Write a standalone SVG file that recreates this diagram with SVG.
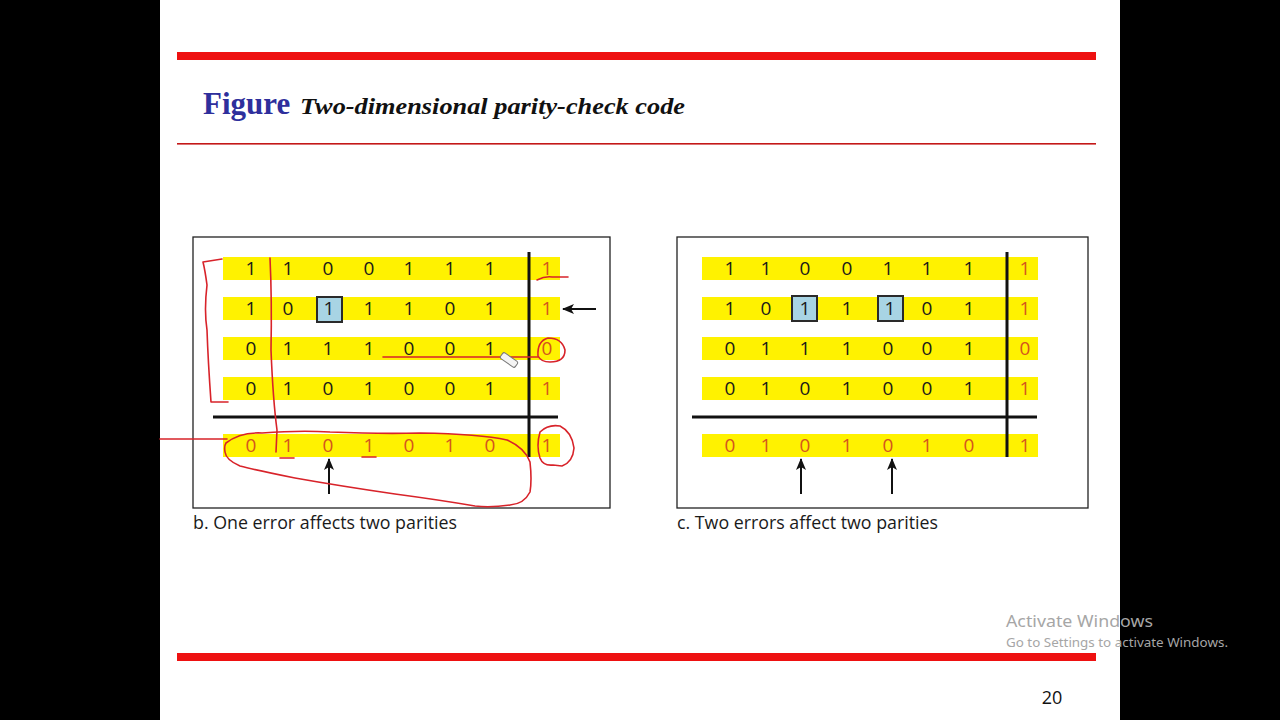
<svg xmlns="http://www.w3.org/2000/svg" width="1280" height="720" viewBox="0 0 1280 720">
<style>
.band{fill:#fff200}
.d{font-family:"Open Sans","Liberation Sans",sans-serif;font-size:19px;fill:#1a1a1a;text-anchor:middle}
.p{fill:#d4561e}
.err{fill:#a8d4e4;stroke:#2a2a2a;stroke-width:2}
.rule{stroke:#111;stroke-width:3}
.frame{fill:none;stroke:#222;stroke-width:1.3}
.cap{font-family:"Open Sans","Liberation Sans",sans-serif;font-size:17.5px;fill:#1a1a1a}
.ink{fill:none;stroke:#d8232a;stroke-width:1.6;stroke-linecap:round;stroke-linejoin:round}
.arr{stroke:#111;stroke-width:2;marker-end:url(#ah)}
</style>
<defs>
<marker id="ah" viewBox="0 0 12 10" refX="11" refY="5" markerWidth="12" markerHeight="10" markerUnits="userSpaceOnUse" orient="auto">
<path d="M0,0 L12,5 L0,10 L3,5 Z" fill="#111"/>
</marker>
</defs>
<rect x="0" y="0" width="1280" height="720" fill="#000"/>
<rect x="160" y="0" width="960" height="720" fill="#fff"/>
<rect x="177" y="52" width="919" height="8" fill="#ee1111"/>
<rect x="177" y="143" width="919" height="1.6" fill="#c41818"/>
<rect x="177" y="653" width="919" height="8" fill="#ee1111"/>
<g id="title">
<text x="203" y="114" font-family="Liberation Serif,serif" font-weight="bold" font-size="31" fill="#2e2f9c">Figure</text>
<text x="300" y="114" font-family="Liberation Serif,serif" font-weight="bold" font-style="italic" font-size="24" fill="#111" textLength="385" lengthAdjust="spacingAndGlyphs">Two-dimensional parity-check code</text>
</g>

<g id="panel-b">
<rect class="frame" x="193" y="237" width="417" height="271"/>
<rect class="band" x="223" y="257" width="337" height="23"/>
<rect class="band" x="223" y="297" width="337" height="23"/>
<rect class="band" x="223" y="337" width="337" height="23"/>
<rect class="band" x="223" y="377" width="337" height="23"/>
<rect class="band" x="223" y="434" width="337" height="23"/>
<rect class="err" x="317" y="297" width="25" height="25"/>
<line class="rule" x1="529" y1="252" x2="529" y2="457"/>
<line class="rule" x1="213" y1="417" x2="558" y2="417"/>
<g class="d">
<text x="251" y="275">1</text><text x="288" y="275">1</text><text x="328" y="275">0</text><text x="369" y="275">0</text><text x="409" y="275">1</text><text x="450" y="275">1</text><text x="490" y="275">1</text><text class="p" x="547" y="275">1</text>
<text x="251" y="315">1</text><text x="288" y="315">0</text><text x="329" y="315">1</text><text x="369" y="315">1</text><text x="409" y="315">1</text><text x="450" y="315">0</text><text x="490" y="315">1</text><text class="p" x="547" y="315">1</text>
<text x="251" y="355">0</text><text x="288" y="355">1</text><text x="328" y="355">1</text><text x="369" y="355">1</text><text x="409" y="355">0</text><text x="450" y="355">0</text><text x="490" y="355">1</text><text class="p" x="547" y="355">0</text>
<text x="251" y="395">0</text><text x="288" y="395">1</text><text x="328" y="395">0</text><text x="369" y="395">1</text><text x="409" y="395">0</text><text x="450" y="395">0</text><text x="490" y="395">1</text><text class="p" x="547" y="395">1</text>
<text class="p" x="251" y="452">0</text><text class="p" x="288" y="452">1</text><text class="p" x="328" y="452">0</text><text class="p" x="369" y="452">1</text><text class="p" x="409" y="452">0</text><text class="p" x="450" y="452">1</text><text class="p" x="490" y="452">0</text><text class="p" x="547" y="452">1</text>
</g>
<text class="cap" x="193" y="529" textLength="264" lengthAdjust="spacingAndGlyphs">b. One error affects two parities</text>
</g>

<g id="panel-c">
<rect class="frame" x="677" y="237" width="411" height="271"/>
<rect class="band" x="702" y="257" width="336" height="23"/>
<rect class="band" x="702" y="297" width="336" height="23"/>
<rect class="band" x="702" y="337" width="336" height="23"/>
<rect class="band" x="702" y="377" width="336" height="23"/>
<rect class="band" x="702" y="434" width="336" height="23"/>
<rect class="err" x="792" y="296" width="25" height="25"/>
<rect class="err" x="878" y="296" width="25" height="25"/>
<line class="rule" x1="1007" y1="252" x2="1007" y2="457"/>
<line class="rule" x1="692" y1="417" x2="1037" y2="417"/>
<g class="d">
<text x="730" y="275">1</text><text x="766" y="275">1</text><text x="805" y="275">0</text><text x="847" y="275">0</text><text x="888" y="275">1</text><text x="927" y="275">1</text><text x="969" y="275">1</text><text class="p" x="1025" y="275">1</text>
<text x="730" y="315">1</text><text x="766" y="315">0</text><text x="805" y="315">1</text><text x="847" y="315">1</text><text x="890" y="315">1</text><text x="927" y="315">0</text><text x="969" y="315">1</text><text class="p" x="1025" y="315">1</text>
<text x="730" y="355">0</text><text x="766" y="355">1</text><text x="805" y="355">1</text><text x="847" y="355">1</text><text x="888" y="355">0</text><text x="927" y="355">0</text><text x="969" y="355">1</text><text class="p" x="1025" y="355">0</text>
<text x="730" y="395">0</text><text x="766" y="395">1</text><text x="805" y="395">0</text><text x="847" y="395">1</text><text x="888" y="395">0</text><text x="927" y="395">0</text><text x="969" y="395">1</text><text class="p" x="1025" y="395">1</text>
<text class="p" x="730" y="452">0</text><text class="p" x="766" y="452">1</text><text class="p" x="805" y="452">0</text><text class="p" x="847" y="452">1</text><text class="p" x="888" y="452">0</text><text class="p" x="927" y="452">1</text><text class="p" x="969" y="452">0</text><text class="p" x="1025" y="452">1</text>
</g>
<text class="cap" x="677" y="529" textLength="261" lengthAdjust="spacingAndGlyphs">c. Two errors affect two parities</text>
</g>

<g id="connectors">
<line class="arr" x1="596" y1="309" x2="563" y2="309"/>
<line class="arr" x1="329" y1="494" x2="329" y2="459"/>
<line class="arr" x1="801" y1="494" x2="801" y2="459"/>
<line class="arr" x1="892" y1="494" x2="892" y2="459"/>
</g>

<g id="annotations">
<path class="ink" d="M222,259 L203,262 Q205,270 207,285 Q204,310 207,330 Q208,360 211,402 L228,402"/>
<path class="ink" d="M270,258 Q272,300 271,350 Q273,400 277,430 L276,452"/>
<path class="ink" d="M537,280 Q545,276 552,277 L568,277"/>
<path class="ink" d="M383,357 L500,357"/>
<path class="ink" d="M510,357 L538,357" stroke-width="3"/>
<path class="ink" d="M538,356 Q537,341 548,338 Q562,338 565,350 Q565,362 550,362 Q541,362 538,356"/>
<path class="ink" d="M160,439 L227,439"/>
<path class="ink" d="M226,443 Q240,432 262,433 Q300,430 330,432 Q380,434 420,433 Q480,434 507,440 Q525,448 530,462 Q532,480 530,492 Q524,504 510,505 Q490,508 475,506 Q440,500 395,494 Q340,486 295,478 Q255,470 240,466 Q226,460 225,452 Q224,446 226,443"/>
<path class="ink" d="M540,432 Q548,424 560,426 Q572,432 574,448 Q573,462 562,466 L553,465 Q543,466 540,458 Q536,446 540,432"/>
<path class="ink" d="M280,458 L294,458"/>
<path class="ink" d="M362,457 L376,457"/>
<g transform="translate(509,360) rotate(35)">
<rect x="-9" y="-3.5" width="18" height="7" rx="2" fill="#f4f4f4" stroke="#777" stroke-width="1"/>
</g>
</g>

<g id="watermark" font-family="Noto Sans,Open Sans,sans-serif" fill="#a6a6a6">
<text x="1006" y="627" font-size="17" textLength="147" lengthAdjust="spacingAndGlyphs">Activate Windows</text>
<text x="1006" y="647" font-size="13" textLength="222" lengthAdjust="spacingAndGlyphs">Go to Settings to activate Windows.</text>
</g>
<text x="1052" y="704" font-family="Open Sans,Liberation Sans,sans-serif" font-size="18" fill="#111" text-anchor="middle">20</text>
</svg>
